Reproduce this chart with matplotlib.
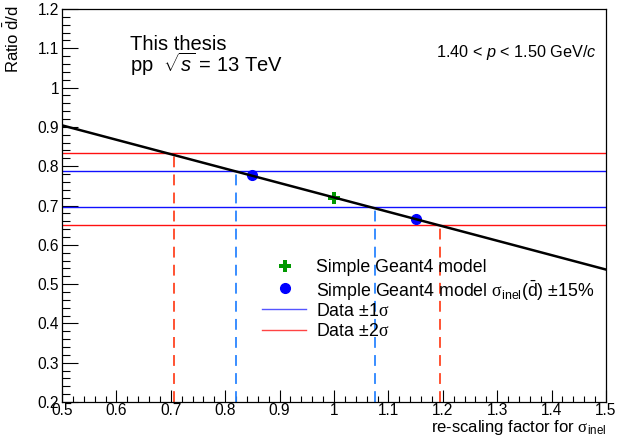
import matplotlib
matplotlib.use("Agg")
import matplotlib.pyplot as plt
from matplotlib.ticker import MultipleLocator, FixedFormatter, FixedLocator

plt.rcParams['font.family'] = ['Liberation Sans', 'DejaVu Sans']
plt.rcParams['mathtext.fontset'] = 'custom'
plt.rcParams['mathtext.rm'] = 'Liberation Sans'
plt.rcParams['mathtext.it'] = 'Liberation Sans:italic'
plt.rcParams['mathtext.bf'] = 'Liberation Sans:bold'
plt.rcParams['mathtext.sf'] = 'Liberation Serif'

# ---- data ----
fit_x = [0.5, 1.5]
fit_y = [0.904, 0.537]
model_x = [1.0]
model_y = [0.719]
scaled_x = [0.85, 1.15]
scaled_y = [0.777, 0.666]
data_1sigma = [0.787, 0.696]
data_2sigma = [0.833, 0.651]
cross_1sigma_x = [0.82, 1.075]
cross_2sigma_x = [0.705, 1.195]
x_ticks = [0.5, 0.6, 0.7, 0.8, 0.9, 1.0, 1.1, 1.2, 1.3, 1.4, 1.5]
x_ticklabels = ['0.5', '0.6', '0.7', '0.8', '0.9', '1', '1.1', '1.2', '1.3', '1.4', '1.5']
y_ticks = [0.2, 0.3, 0.4, 0.5, 0.6, 0.7, 0.8, 0.9, 1.0, 1.1, 1.2]
y_ticklabels = ['0.2', '0.3', '0.4', '0.5', '0.6', '0.7', '0.8', '0.9', '1', '1.1', '1.2']

RED = '#ff1010'
BLUE = '#1010ff'
RED_D = '#ff4422'
BLUE_D = '#2a85ff'

fig = plt.figure(figsize=(6.17, 4.41), dpi=100)
ax = fig.add_axes([62/617, 39/441, 544/617, 393/441])
ax.set_xlim(0.5, 1.5)
ax.set_ylim(0.2, 1.2)

# horizontal data bands
for v in data_2sigma:
    ax.axhline(v, color=RED, lw=1.0, zorder=2)
for v in data_1sigma:
    ax.axhline(v, color=BLUE, lw=1.0, zorder=2)

# vertical dashed lines at crossings
for xv, yv in zip(cross_2sigma_x, data_2sigma):
    ax.plot([xv, xv], [0.2, yv], color=RED_D, lw=1.3, dashes=(6, 4), zorder=2)
for xv, yv in zip(cross_1sigma_x, data_1sigma):
    ax.plot([xv, xv], [0.2, yv], color=BLUE_D, lw=1.3, dashes=(6, 4), zorder=2)

# markers
ax.plot(scaled_x, scaled_y, 'o', color='#0000ff', ms=7, zorder=3)
ax.plot(model_x, model_y, 'P', color='#009900', ms=8, mew=0, zorder=3)

# fit line
ax.plot(fit_x, fit_y, color='black', lw=1.8, zorder=4)

# ticks
ax.xaxis.set_major_locator(FixedLocator(x_ticks))
ax.xaxis.set_major_formatter(FixedFormatter(x_ticklabels))
ax.yaxis.set_major_locator(FixedLocator(y_ticks))
ax.yaxis.set_major_formatter(FixedFormatter(y_ticklabels))
ax.xaxis.set_minor_locator(MultipleLocator(0.02))
ax.yaxis.set_minor_locator(MultipleLocator(0.02))
ax.tick_params(which='both', direction='in', top=False, right=False, labelsize=11.2, width=0.8)
ax.tick_params(axis='x', which='major', length=8.6, pad=1)
ax.tick_params(axis='x', which='minor', length=4.3)
ax.tick_params(axis='y', which='major', length=11.5, pad=2)
ax.tick_params(axis='y', which='minor', length=5.8)
for s in ax.spines.values():
    s.set_linewidth(0.9)

# axis labels
fig.text(606/617, 1 - 432/441, r're-scaling factor for $\mathsf{\sigma}_{\mathrm{inel}}$', ha='right',
         va='baseline', fontsize=12)
fig.text(22/617, 1 - 5/441, r'Ratio $\bar{\mathrm{d}}$/d', rotation=90, ha='right', va='top', fontsize=12)

# annotations
fig.text(130/617, 1 - 50/441, 'This thesis', fontsize=14.5, va='baseline')
fig.text(130/617, 1 - 72/441, r'pp  $\sqrt{s}$ = 13 TeV', fontsize=14.5, va='baseline')
fig.text(597/617, 1 - 57/441, r'1.40 < $p$ < 1.50 GeV/$c$', fontsize=11.7, ha='right', va='baseline')

# legend (manual)
def fx(px):
    return px / 617
def fy(py):
    return 1 - py / 441

rows = [266, 288, 309, 330]
fig.lines.append(plt.Line2D([fx(285)], [fy(rows[0])], marker='P', color='#009900', ms=8, mew=0,
                            transform=fig.transFigure))
fig.lines.append(plt.Line2D([fx(285)], [fy(rows[1])], marker='o', color='#0000ff', ms=7,
                            transform=fig.transFigure))
fig.lines.append(plt.Line2D([fx(262), fx(306)], [fy(rows[2]), fy(rows[2])], color='#5555ff', lw=1.0,
                            transform=fig.transFigure))
fig.lines.append(plt.Line2D([fx(262), fx(306)], [fy(rows[3]), fy(rows[3])], color='#ff4444', lw=1.0,
                            transform=fig.transFigure))
labels = ['Simple Geant4 model',
          r'Simple Geant4 model $\mathsf{\sigma}_{\mathrm{inel}}(\bar{\mathrm{d}})$ ±15%',
          r'Data ±1$\mathsf{\sigma}$',
          r'Data ±2$\mathsf{\sigma}$']
for r, t in zip(rows, labels):
    fig.text(fx(316), fy(r), t, fontsize=12.8, va='center_baseline')

fig.savefig('out.png', dpi=100)
